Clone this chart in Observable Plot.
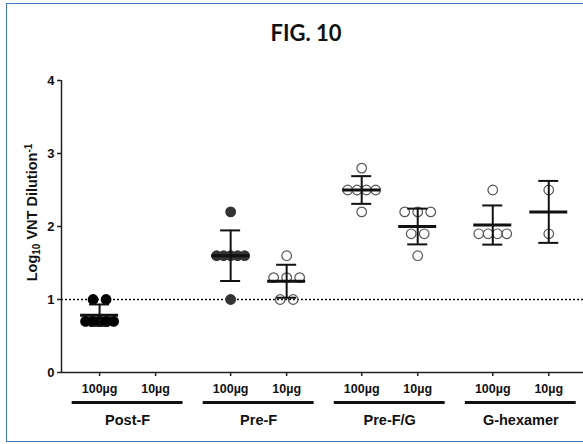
<!DOCTYPE html>
<html>
<head>
<meta charset="utf-8">
<script src="https://cdn.jsdelivr.net/npm/d3@7"></script>
<script src="https://cdn.jsdelivr.net/npm/@observablehq/plot@0.6"></script>
<style>
  html, body { margin: 0; padding: 0; background: #fff; overflow: hidden; }
  #wrap { position: relative; width: 583px; height: 444px; overflow: hidden; }
  #frame { position: absolute; left: 6px; top: 3px; width: 620px; height: 437px; border: 1.5px solid #3f78b3; }
  #title { position: absolute; top: 19px; left: 306px; transform: translateX(-50%); font-family: Lato, "Open Sans", sans-serif; font-weight: 700; font-size: 22px; color: #111; white-space: nowrap; }
  #chart { position: absolute; left: 0; top: 60px; }
</style>
</head>
<body>
<div id="wrap">
  <div id="frame"></div>
  <div id="title">FIG. 10</div>
  <div id="chart"></div>
</div>
<script>
// ---- data ----
const groups = ["Post-F", "Pre-F", "Pre-F/G", "G-hexamer"];
const doses = ["100µg", "10µg"];
const postF100 = [1.0, 1.0, 0.7, 0.7, 0.7, 0.7, 0.7];
const postF10 = [];
const preF100 = [2.2, 1.6, 1.6, 1.6, 1.6, 1.6, 1.0];
const preF10 = [1.6, 1.3, 1.3, 1.3, 1.0, 1.0];
const preFG100 = [2.8, 2.5, 2.5, 2.5, 2.5, 2.2];
const preFG10 = [2.2, 2.2, 2.2, 1.9, 1.9, 1.6];
const gHex100 = [2.5, 1.9, 1.9, 1.9, 1.9];
const gHex10 = [2.5, 1.9];
const limitOfDetection = 1;
const yTicks = [0, 1, 2, 3, 4];
const yLabel = "Log10 VNT Dilution-1";

// ---- layout ----
const W = 583, H = 384, mt = 20, mb = 72, ml = 61, mr = 0;
const xSpan = 9.32;
const pxX = (W - ml - mr) / xSpan;
const pxY = (H - mt - mb) / 4;
const slotX = (g, d) => 0.68 + 2.34 * g + d;

const series = [
  {g: 0, d: 0, values: postF100, kind: "black"},
  {g: 0, d: 1, values: postF10, kind: "black"},
  {g: 1, d: 0, values: preF100, kind: "gray"},
  {g: 1, d: 1, values: preF10, kind: "open"},
  {g: 2, d: 0, values: preFG100, kind: "open"},
  {g: 2, d: 1, values: preFG10, kind: "open"},
  {g: 3, d: 0, values: gHex100, kind: "open"},
  {g: 3, d: 1, values: gHex10, kind: "open"}
];
const styleOf = {
  black: {fill: "#000", stroke: "#000"},
  gray: {fill: "#333", stroke: "#333"},
  open: {fill: "none", stroke: "#555"}
};

const slots = [];
groups.forEach((name, g) => doses.forEach((dose, d) => slots.push({x: slotX(g, d), dose})));
const groupData = groups.map((name, g) => ({name, center: slotX(g, 0.5)}));

const points = [];
const stats = [];
for (const s of series) {
  const cx = slotX(s.g, s.d);
  const rows = d3.group(s.values, v => v);
  for (const [v, arr] of rows) {
    const n = arr.length;
    const sp = n > 1 ? Math.min(13, 28 / (n - 1)) : 0;
    arr.forEach((_, i) => {
      points.push({x: cx + (i - (n - 1) / 2) * sp / pxX, y: v, ...styleOf[s.kind]});
    });
  }
  if (s.values.length >= 2) {
    stats.push({x: cx, mean: d3.mean(s.values), sd: d3.deviation(s.values)});
  }
}

const chart = Plot.plot({
  width: W, height: H,
  marginLeft: ml, marginRight: mr, marginTop: mt, marginBottom: mb,
  x: {domain: [0, xSpan], axis: null},
  y: {domain: [0, 4], axis: null},
  color: {type: "identity"},
  style: {fontFamily: "'Liberation Sans', Arial, sans-serif", fontWeight: "bold", color: "#111", background: "transparent"},
  marks: [
    Plot.ruleY([limitOfDetection], {stroke: "#111", strokeWidth: 1.6, strokeDasharray: "2,2"}),
    Plot.ruleY([0], {stroke: "#222", strokeWidth: 1.5}),
    Plot.ruleX([0], {y1: 0, y2: 4, stroke: "#222", strokeWidth: 1.5}),
    Plot.ruleY(yTicks, {y: d => d, x1: 0, x2: -4 / pxX, stroke: "#222", strokeWidth: 1.5}),
    Plot.text(yTicks, {y: d => d, x: () => 0, text: d => String(d), textAnchor: "end", dx: -7, fontSize: 13, fill: "#111"}),
    Plot.ruleX(slots, {x: "x", y1: 0, y2: -4 / pxY, stroke: "#222", strokeWidth: 1.5}),
    Plot.text(slots, {x: "x", y: () => 0, text: "dose", dy: 16, fontSize: 12.5, fill: "#111"}),
    Plot.ruleY(groupData, {x1: d => d.center - 0.99, x2: d => d.center + 0.99, y: () => 0, dy: 30, stroke: "#111", strokeWidth: 3}),
    Plot.text(groupData, {x: "center", y: () => 0, text: "name", dy: 48, fontSize: 14.5, fill: "#111"}),
    Plot.dot(points, {x: "x", y: "y", r: 4.8, fill: "fill", stroke: "stroke", strokeWidth: 1.2}),
    Plot.ruleX(stats, {x: "x", y1: d => d.mean - d.sd, y2: d => d.mean + d.sd, stroke: "#111", strokeWidth: 2}),
    Plot.ruleY(stats, {x1: d => d.x - 10 / pxX, x2: d => d.x + 10 / pxX, y: d => d.mean + d.sd, stroke: "#111", strokeWidth: 2}),
    Plot.ruleY(stats, {x1: d => d.x - 10 / pxX, x2: d => d.x + 10 / pxX, y: d => d.mean - d.sd, stroke: "#111", strokeWidth: 2}),
    Plot.ruleY(stats, {x1: d => d.x - 19 / pxX, x2: d => d.x + 19 / pxX, y: "mean", stroke: "#111", strokeWidth: 3}),
    Plot.text([yLabel], {frameAnchor: "left", textAnchor: "middle", rotate: -90, dx: -29, dy: -14, text: d => d, fontSize: 14.5, fill: "#111"})
  ]
});
document.getElementById("chart").appendChild(chart);

// sub/superscript in the y label
for (const t of chart.querySelectorAll("text")) {
  if (t.textContent === yLabel) {
    const ns = "http://www.w3.org/2000/svg";
    t.textContent = "";
    const parts = [["Log", 0, null], ["10", 3, 10], [" VNT Dilution", -3, null], ["-1", -5, 10]];
    for (const [s, dy, fs] of parts) {
      const ts = document.createElementNS(ns, "tspan");
      ts.textContent = s;
      if (dy) ts.setAttribute("dy", dy);
      if (fs) ts.setAttribute("font-size", fs);
      t.appendChild(ts);
    }
  }
}
</script>
</body>
</html>
